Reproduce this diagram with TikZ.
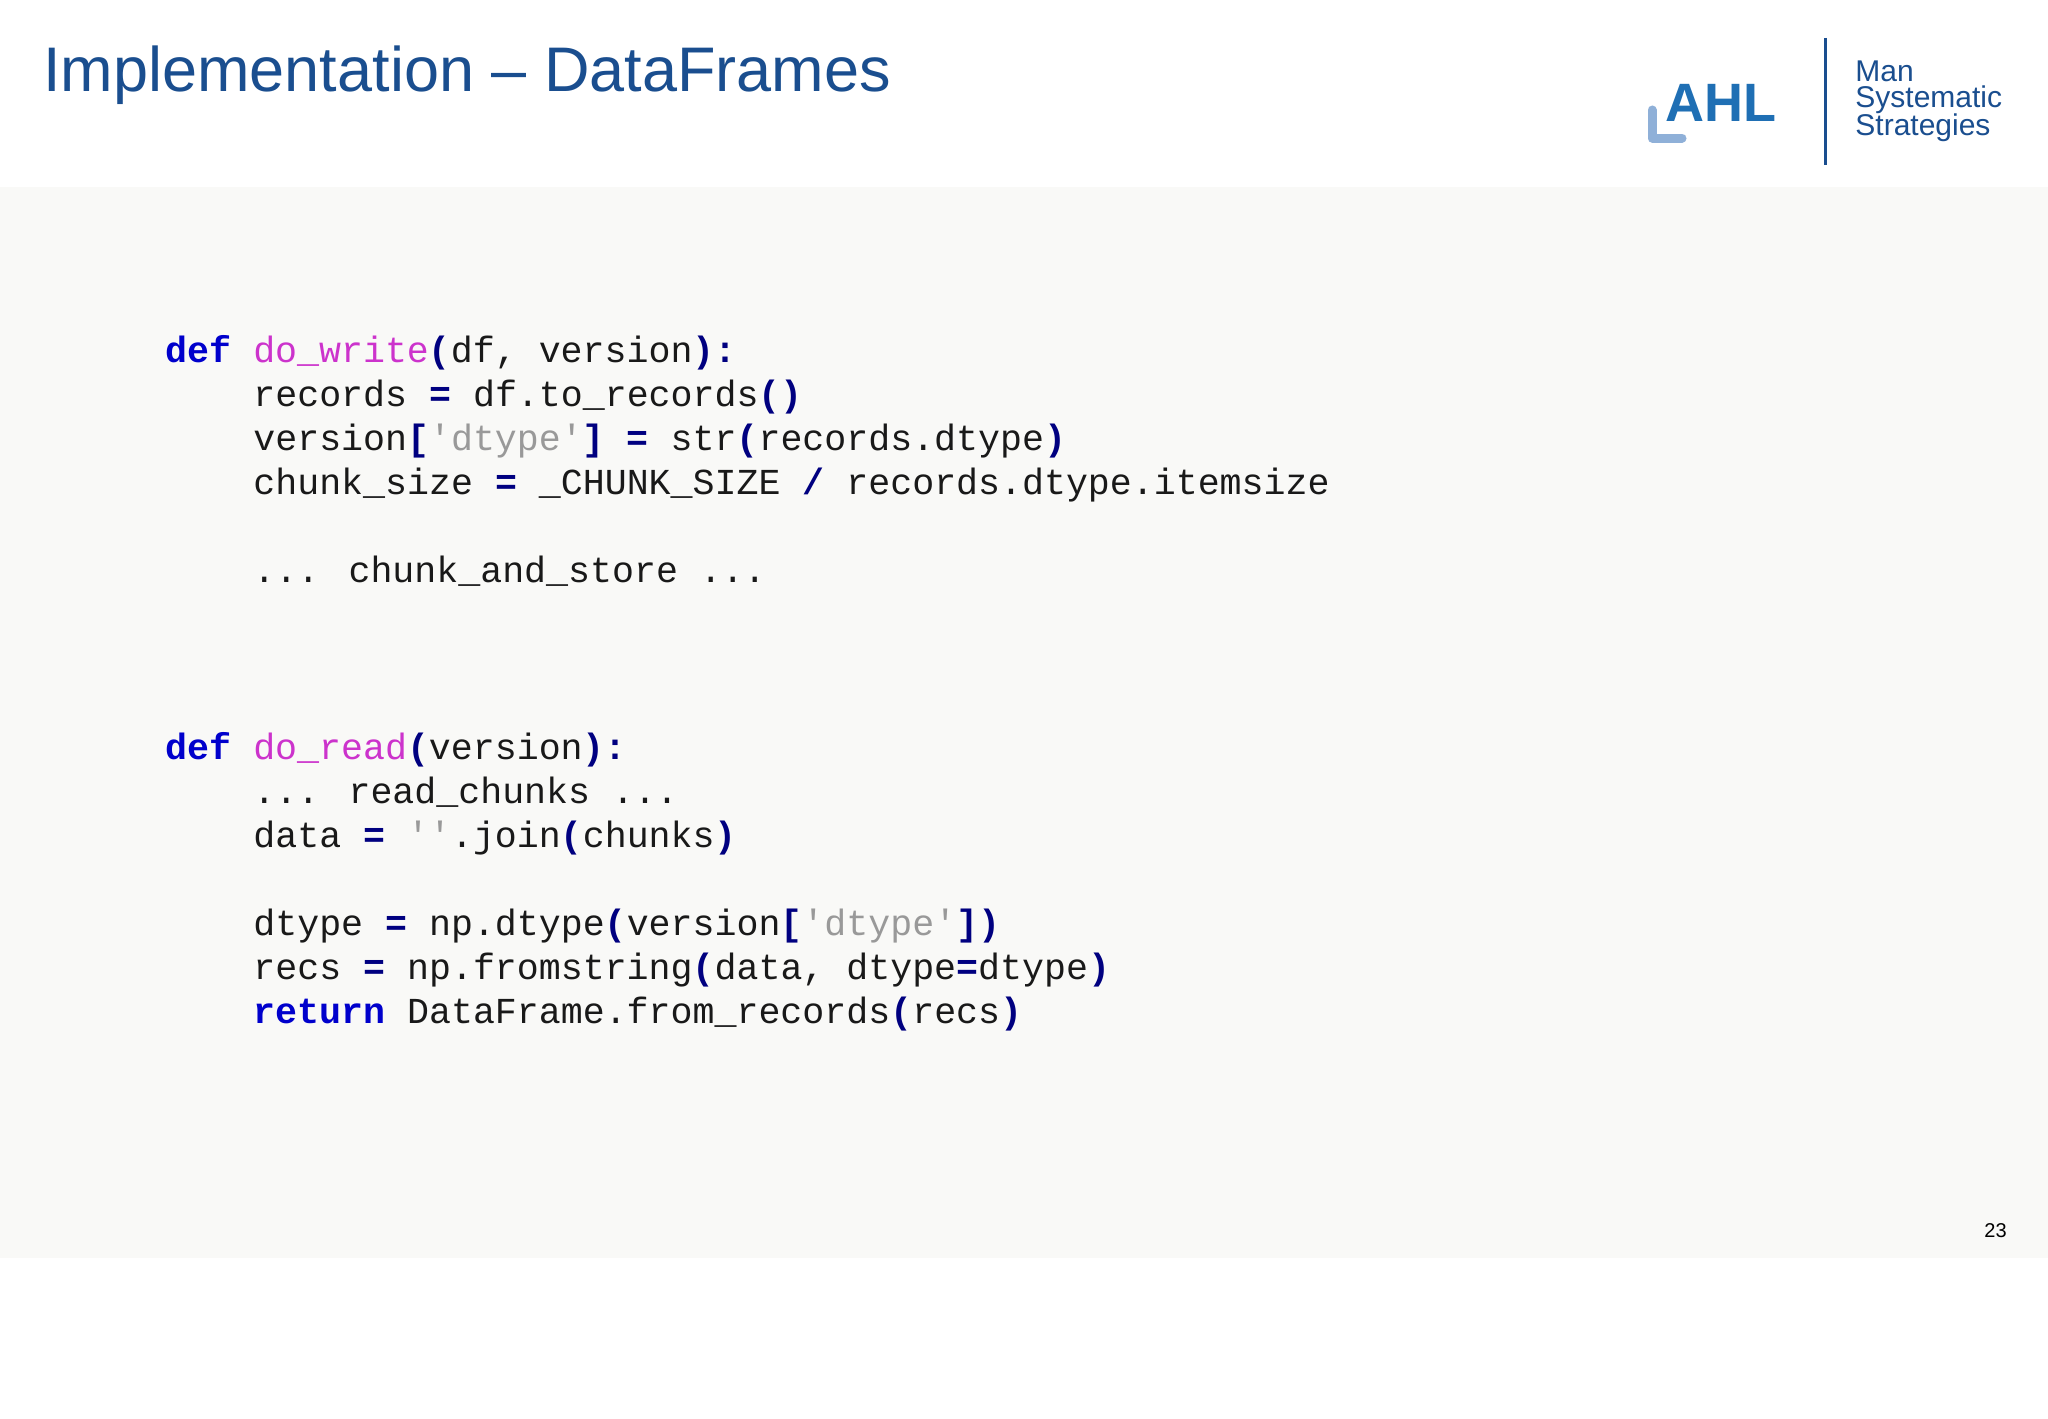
\documentclass[tikz,border=0pt]{standalone}
\usepackage{fontspec}
\setmainfont{Liberation Sans}
\newfontfamily\code{Liberation Mono}
\definecolor{titleblue}{HTML}{1A4E8F}
\definecolor{ahlblue}{HTML}{1F6FB4}
\definecolor{ahllight}{HTML}{8FB0D8}
\definecolor{bg}{HTML}{F9F9F7}
\definecolor{kwc}{HTML}{0000CC}
\definecolor{fnc}{HTML}{CC33CC}
\definecolor{opc}{HTML}{000080}
\definecolor{stc}{HTML}{999999}
\newcommand\kw[1]{\textcolor{kwc}{\bfseries #1}}
\newcommand\fn[1]{\textcolor{fnc}{#1}}
\newcommand\op[1]{\textcolor{opc}{\bfseries #1}}
\newcommand\st[1]{\textcolor{stc}{#1}}
\newcommand\q{{\char39}}
\begin{document}
\begin{tikzpicture}[x=0.5pt,y=-0.5pt,
  codeline/.style={anchor=base west,inner sep=0pt,font=\code\fontsize{18.3}{22}\selectfont,text=black!90},
  logotext/.style={anchor=base west,inner sep=0pt,font=\fontsize{15}{17}\selectfont,text=titleblue}]
\useasboundingbox (0,0) rectangle (2048,1418);
\fill[white] (0,0) rectangle (2048,1418);
\fill[bg] (0,187) rectangle (2048,1258);
\node[anchor=base west,inner sep=0pt,font=\fontsize{31.5}{34}\selectfont,text=titleblue] (title) at (43,91) {Implementation -- DataFrames};
% logo
\node[anchor=base west,inner sep=0pt,font=\bfseries\fontsize{27}{28}\selectfont,text=ahlblue] (ahl) at (1665,121) {AHL};
\draw[ahllight,line width=4.5pt,line cap=round,line join=round] (1652,110) -- (1652,138) -- (1682,138);
\draw[titleblue,line width=1.5pt] (1825,38) -- (1825,165);
\node[logotext] (man) at (1855,82) {Man};
\node[logotext] (sys) at (1855,108) {Systematic};
\node[logotext] (str) at (1855,135) {Strategies};
% code
\def\L{165}\def\I{253}
\node[codeline] (c0) at (\L,362) {\kw{def} \fn{do\_write}\op{(}df, version\op{):}};
\node[codeline] (c1) at (\I,406) {records \op{=} df.to\_records\op{()}};
\node[codeline] (c2) at (\I,450) {version\op{[}\st{\q dtype\q}\op{]} \op{=} str\op{(}records.dtype\op{)}};
\node[codeline] (c3) at (\I,494) {chunk\_size \op{=} \_CHUNK\_SIZE \op{/} records.dtype.itemsize};
\node[codeline] (c5) at (\I,582) {... chunk\_and\_store ...};
\node[codeline] (c9) at (\L,759) {\kw{def} \fn{do\_read}\op{(}version\op{):}};
\node[codeline] (c10) at (\I,803) {... read\_chunks ...};
\node[codeline] (c11) at (\I,847) {data \op{=} \st{\q\q}.join\op{(}chunks\op{)}};
\node[codeline] (c13) at (\I,935) {dtype \op{=} np.dtype\op{(}version\op{[}\st{\q dtype\q}\op{])}};
\node[codeline] (c14) at (\I,979) {recs \op{=} np.fromstring\op{(}data, dtype\op{=}dtype\op{)}};
\node[codeline] (c15) at (\I,1023) {\kw{return} DataFrame.from\_records\op{(}recs\op{)}};
\node[anchor=base east,inner sep=0pt,font=\fontsize{10}{12}\selectfont] (pg) at (2007,1237) {23};
\end{tikzpicture}
\end{document}
